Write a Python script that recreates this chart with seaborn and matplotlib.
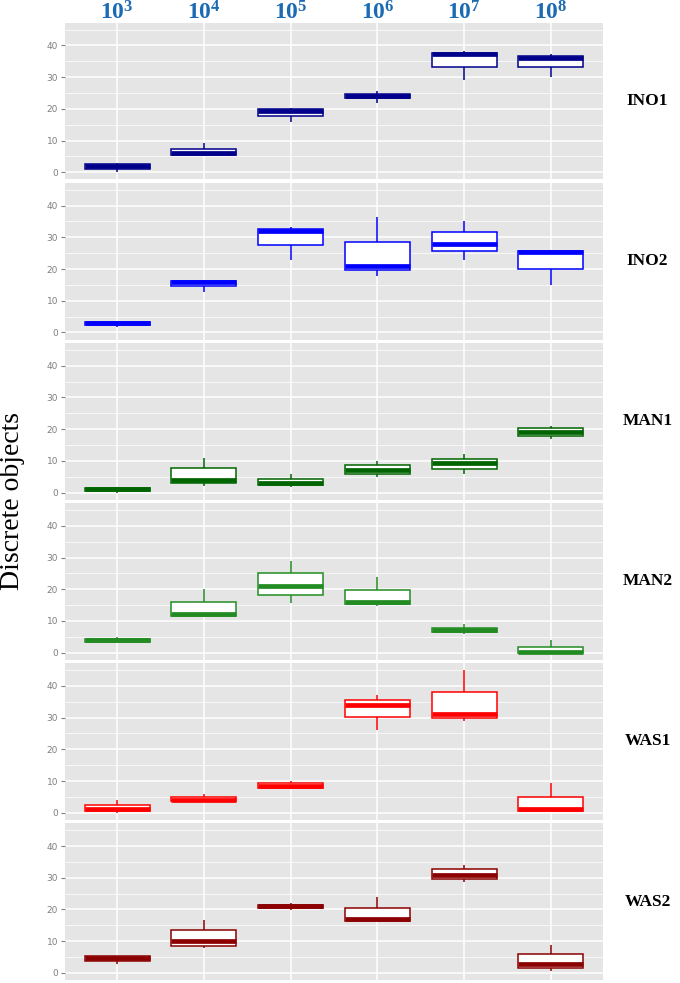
import numpy as np
import pandas as pd
import matplotlib
matplotlib.use("Agg")
import matplotlib.pyplot as plt
import seaborn as sns

# bacterial load levels (columns)
concs = ["$10^{3}$", "$10^{4}$", "$10^{5}$", "$10^{6}$", "$10^{7}$", "$10^{8}$"]

# each box: [lower whisker, q1, median, q3, upper whisker]
ino1 = [[0, 1, 2, 2.5, 3], [5, 5.5, 6, 7.5, 9.3], [16, 17.8, 19.2, 19.9, 20.3],
        [22, 23.3, 24, 24.6, 25.5], [29, 33.2, 37.2, 37.7, 38.4], [30, 33.3, 36.2, 36.6, 37.2]]
ino2 = [[1.8, 2.4, 3, 3.4, 3.6], [12.8, 14.6, 16, 16.3, 16.5], [22.8, 27.6, 32.1, 32.6, 33.2],
        [17.8, 19.6, 21, 28.5, 36.3], [22.8, 25.6, 28, 31.6, 35.3], [15, 20, 25.3, 25.8, 26]]
man1 = [[0, 0.5, 1, 1.3, 1.6], [2, 3, 4.1, 7.6, 11], [1.8, 2.3, 3, 4.4, 6],
        [5, 6, 7, 8.6, 10], [6, 7.4, 9.2, 10.5, 12], [17, 17.9, 19.2, 20.2, 21]]
man2 = [[3.4, 3.5, 4, 4.3, 4.8], [11.5, 11.6, 12.1, 16, 20], [15.8, 18.3, 21, 25.2, 29],
        [14.7, 15.3, 16, 19.9, 24], [6, 6.4, 7.1, 7.9, 9], [0, 0, 0.2, 1.8, 4.1]]
was1 = [[0, 0.5, 1.1, 2.5, 3.9], [3.5, 3.6, 4.1, 5, 6], [7.6, 7.7, 8.3, 9.3, 10],
        [26, 30.2, 34.1, 35.6, 37.2], [29, 30, 31, 38.2, 45], [0.5, 0.5, 1.1, 5, 9.3]]
was2 = [[2.8, 3.7, 4.6, 5.3, 5.4], [7.7, 8.6, 10, 13.5, 16.8], [19.7, 20.3, 21, 21.5, 22],
        [16.3, 16.4, 17, 20.3, 24], [28.7, 29.7, 30.8, 32.6, 34], [0.7, 1.6, 2.8, 6, 8.7]]

panels = ["INO1", "INO2", "MAN1", "MAN2", "WAS1", "WAS2"]
panel_data = [ino1, ino2, man1, man2, was1, was2]
panel_colors = ["#00008B", "#0000FF", "#006400", "#228B22", "#FF0000", "#8B0000"]

rows = []
for name, boxes in zip(panels, panel_data):
    for conc, stats in zip(concs, boxes):
        for v in stats:
            rows.append({"panel": name, "conc": conc, "value": v})
df = pd.DataFrame(rows)

sns.set_theme(style="white")
plt.rcParams["mathtext.fontset"] = "custom"
plt.rcParams["mathtext.rm"] = "Liberation Serif:bold"
plt.rcParams["mathtext.it"] = "Liberation Serif:bold"
plt.rcParams["mathtext.bf"] = "Liberation Serif:bold"

W, H = 680, 983
fig, axes = plt.subplots(6, 1, figsize=(W / 100, H / 100), dpi=100)
fig.subplots_adjust(left=65 / W, right=603 / W, top=1 - 22.5 / H, bottom=1 - 980 / H, hspace=0.02)

for i, (ax, name, col) in enumerate(zip(axes, panels, panel_colors)):
    sub = df[df["panel"] == name]
    sns.boxplot(data=sub, x="conc", y="value", order=concs, ax=ax,
                whis=(0, 100), width=0.75, color="white", linecolor=col,
                linewidth=1.1, showcaps=False, showfliers=False,
                medianprops={"color": col, "linewidth": 3.4})
    ax.set_facecolor("#E5E5E5")
    for s in ax.spines.values():
        s.set_visible(False)
    ax.set_xlim(-0.6, 5.6)
    ax.set_ylim(-2.25, 47.25)
    ax.set_yticks([0, 10, 20, 30, 40])
    ax.set_yticks([5, 15, 25, 35, 45], minor=True)
    ax.set_axisbelow(True)
    ax.grid(which="major", color="white", linewidth=1.1)
    ax.grid(which="minor", axis="y", color="white", linewidth=0.5)
    ax.tick_params(axis="y", which="major", length=3, width=0.8, color="#7F7F7F",
                   labelsize=6.5, labelcolor="#7F7F7F", pad=2, left=True)
    ax.tick_params(axis="y", which="minor", length=0)
    ax.tick_params(axis="x", bottom=False, top=False, labelbottom=False, labeltop=False)
    ax.set_xlabel("")
    ax.set_ylabel("")
    if i == 0:
        for j, c in enumerate(concs):
            ax.annotate(c, xy=(j, 1), xycoords=("data", "axes fraction"),
                        xytext=(0, 2.5), textcoords="offset points",
                        ha="center", va="baseline", fontsize=17, color="#1B6AB3")
    ax.text(1.083, 0.5, name, transform=ax.transAxes, ha="center", va="center",
            fontsize=12.5, fontweight="bold", family="Liberation Serif", color="black")

fig.text(0.019, 0.49, "Discrete objects", rotation=90, ha="center", va="center",
         fontsize=20, family="Liberation Serif", color="black")

fig.savefig("out.png", dpi=100)
